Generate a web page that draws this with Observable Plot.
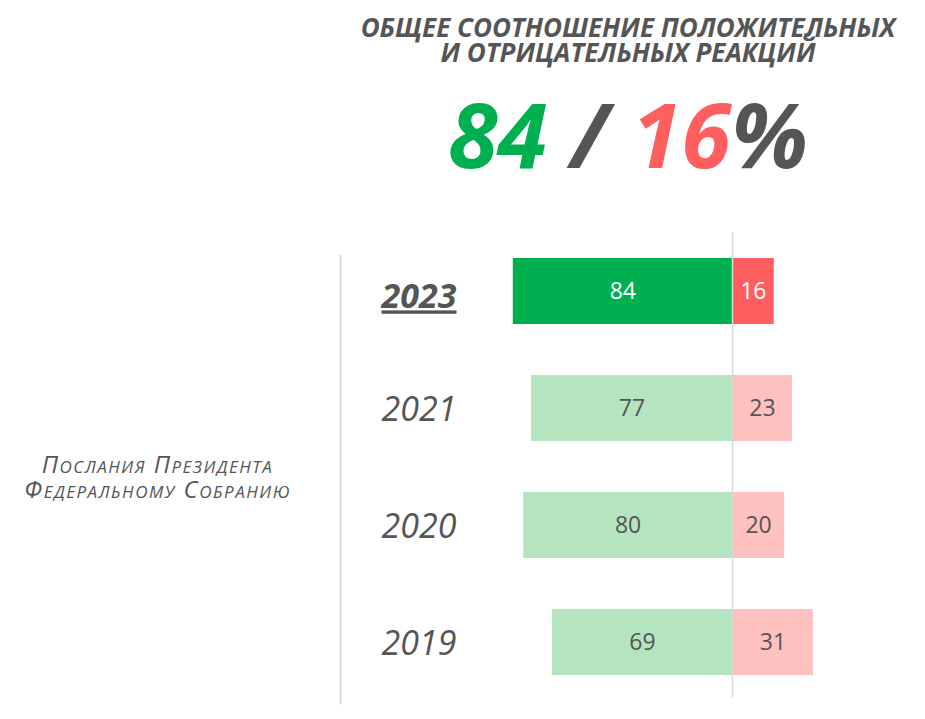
<!DOCTYPE html>
<html>
<head>
<meta charset="utf-8">
<script src="https://cdn.jsdelivr.net/npm/d3@7"></script>
<script src="https://cdn.jsdelivr.net/npm/@observablehq/plot@0.6"></script>
<style>
  body { margin: 0; background: #fff; font-family: "Open Sans", sans-serif; }
  #wrap { position: relative; width: 925px; height: 719px; }
  #head { position: relative; width: 925px; height: 200px; }
  #title { position: absolute; left: 328px; width: 600px; top: 15px; text-align: center;
           font-weight: 700; font-style: italic; font-size: 26px; line-height: 25px; color: #555; }
  #big { position: absolute; left: 328px; width: 600px; top: 88px; text-align: center;
         font-weight: 700; font-style: italic; font-size: 90px; line-height: 1; color: #555; white-space: pre; }
  #big .pos { color: #00B050; }
  #big .neg { color: #FF5F5F; }
  svg { display: block; }
</style>
</head>
<body>
<div id="wrap">
  <div id="head">
    <div id="title">ОБЩЕЕ СООТНОШЕНИЕ ПОЛОЖИТЕЛЬНЫХ<br>И ОТРИЦАТЕЛЬНЫХ РЕАКЦИЙ</div>
    <div id="big"></div>
  </div>
  <div id="chart"></div>
</div>
<script>
const years = ["2023", "2021", "2020", "2019"];
const positive = [84, 77, 80, 69];
const negative = [16, 23, 20, 31];
const highlightYear = "2023";
const groupLabel = "Послания Президента\nФедеральному Собранию";
const totalPositive = 84;
const totalNegative = 16;

const big = document.getElementById("big");
big.innerHTML = `<span class="pos">${totalPositive}</span> / <span class="neg">${totalNegative}</span>%`;

const rows = years.map((y, i) => ({year: y, pos: positive[i], neg: negative[i], hl: y === highlightYear}));

const darkGreen = "#00B050", lightGreen = "#B4E5C0", darkRed = "#FF5F5F", lightRed = "#FFC0C0";

const chart = Plot.plot({
  width: 925,
  height: 519,
  marginLeft: 340,
  marginRight: 0,
  marginTop: 55,
  marginBottom: 16,
  x: {domain: [-100, 100], range: [471, 993], axis: null},
  y: {domain: years, range: [34, 498], paddingInner: 0.44, paddingOuter: 0.2, axis: null},
  style: {fontFamily: "Open Sans, sans-serif", background: "transparent"},
  marks: [
    Plot.frame({anchor: "left", stroke: "#d9d9d9", strokeWidth: 2}),
    Plot.barX(rows, {y: "year", x1: d => -d.pos, x2: 0, fill: d => d.hl ? darkGreen : lightGreen}),
    Plot.barX(rows, {y: "year", x1: 0, x2: "neg", fill: d => d.hl ? darkRed : lightRed}),
    Plot.ruleX([0], {stroke: "#d9d9d9", strokeWidth: 1.5, insetTop: -23, insetBottom: 5}),
    Plot.text(rows, {y: "year", x: d => -d.pos / 2, text: d => String(d.pos), fontSize: 23,
      fill: d => d.hl ? "#fff" : "#555"}),
    Plot.text(rows, {y: "year", x: d => d.neg / 2, text: d => String(d.neg), fontSize: 23,
      fill: d => d.hl ? "#fff" : "#555"}),
    Plot.text(rows.filter(d => d.hl), {y: "year", text: "year", frameAnchor: "left", textAnchor: "end",
      dx: 116, dy: 6, fontSize: 34, fontStyle: "italic", fontWeight: "bold", fill: "#555"}),
    Plot.text(rows.filter(d => !d.hl), {y: "year", text: "year", frameAnchor: "left", textAnchor: "end",
      dx: 116, dy: 2, fontSize: 34, fontStyle: "italic", fill: "#555"}),
    Plot.text([groupLabel], {text: d => d, frameAnchor: "left", textAnchor: "middle", dx: -183, dy: -2,
      fontSize: 24, fontStyle: "italic", fontVariant: "small-caps", lineHeight: 1.05, fill: "#555"})
  ]
});

d3.select(chart).selectAll("text").filter(function() { return this.textContent === highlightYear; })
  .style("text-decoration", "underline");
d3.select(chart).selectAll("text").filter(function() { return this.textContent.startsWith("Послания"); })
  .style("letter-spacing", "1.5px");

document.getElementById("chart").appendChild(chart);
</script>
</body>
</html>
